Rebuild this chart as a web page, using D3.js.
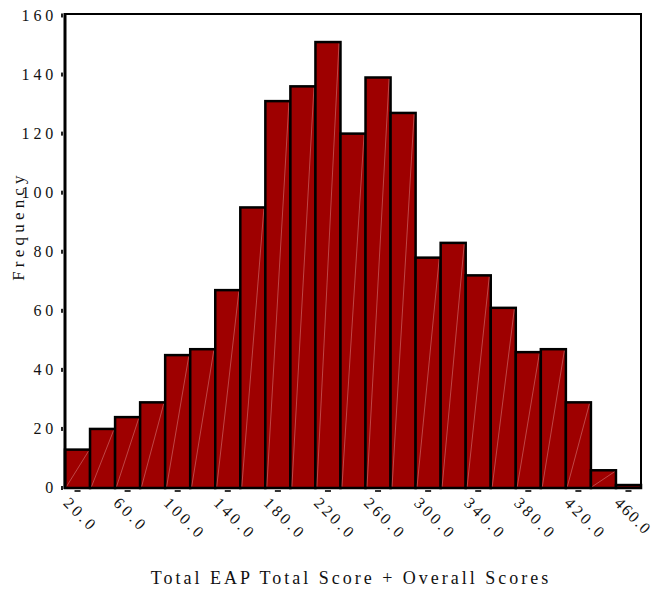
<!DOCTYPE html>
<html>
<head>
<meta charset="utf-8">
<script src="https://cdn.jsdelivr.net/npm/d3@7"></script>
<style>
  html, body { margin: 0; padding: 0; background: #fff; }
  svg text { font-family: "Liberation Serif", "Times New Roman", Times, serif; fill: #111; }
</style>
</head>
<body>
<div id="chart"></div>
<script>
// --- data (bin midpoints, 20 wide) ---
const binMids = [20, 40, 60, 80, 100, 120, 140, 160, 180, 200, 220, 240,
                 260, 280, 300, 320, 340, 360, 380, 400, 420, 440, 460];
const counts  = [13, 20, 24, 29, 45, 47, 67, 95, 131, 136, 151, 120,
                 139, 127, 78, 83, 72, 61, 46, 47, 29, 6, 1];
const xTicks  = [20, 60, 100, 140, 180, 220, 260, 300, 340, 380, 420, 460];
const xTickLabels = ["20.0", "60.0", "100.0", "140.0", "180.0", "220.0",
                     "260.0", "300.0", "340.0", "380.0", "420.0", "460.0"];
const yTicks  = [0, 20, 40, 60, 80, 100, 120, 140, 160];
const binWidth = 20;

// --- sizing ---
const W = 655, H = 591;
const plot = { left: 65, right: 641, top: 14, bottom: 488 };

const svg = d3.select("#chart").append("svg")
  .attr("width", W).attr("height", H)
  .attr("font-family", "Liberation Serif, Times New Roman, serif");

const x = d3.scaleLinear()
  .domain([binMids[0] - binWidth / 2, binMids[binMids.length - 1] + binWidth / 2])
  .range([plot.left, plot.right]);

const y = d3.scaleLinear()
  .domain([0, 160.5])
  .range([plot.bottom, plot.top]);

// frame
svg.append("rect")
  .attr("x", plot.left).attr("y", plot.top)
  .attr("width", plot.right - plot.left)
  .attr("height", plot.bottom - plot.top)
  .attr("fill", "none")
  .attr("stroke", "#000")
  .attr("stroke-width", 2);

// bars
const bars = svg.append("g").selectAll("g")
  .data(binMids.map((m, i) => ({ mid: m, n: counts[i] })))
  .join("g");

bars.append("rect")
  .attr("x", d => x(d.mid - binWidth / 2))
  .attr("y", d => y(d.n))
  .attr("width", d => x(d.mid + binWidth / 2) - x(d.mid - binWidth / 2))
  .attr("height", d => y(0) - y(d.n))
  .attr("fill", "#9e0000")
  .attr("stroke", "#000")
  .attr("stroke-width", 2.5);

// faint diagonal shading seam inside each bar
bars.filter(d => d.n > 2).append("line")
  .attr("x1", d => x(d.mid - binWidth / 2) + 1.5)
  .attr("y1", y(0) - 1.5)
  .attr("x2", d => x(d.mid + binWidth / 2) - 1.5)
  .attr("y2", d => y(d.n) + 1.5)
  .attr("stroke", "#d88080")
  .attr("stroke-width", 0.7)
  .attr("opacity", 0.8);

// left axis line (heavier)
svg.append("line")
  .attr("x1", plot.left).attr("x2", plot.left)
  .attr("y1", plot.top - 1).attr("y2", plot.bottom + 1)
  .attr("stroke", "#000").attr("stroke-width", 3);

// y ticks + labels
const yg = svg.append("g");
yg.selectAll("rect")
  .data(yTicks).join("rect")
  .attr("x", plot.left - 4).attr("y", d => y(d) - 2)
  .attr("width", 2).attr("height", 4)
  .attr("fill", "#222");
yg.selectAll("text")
  .data(yTicks).join("text")
  .attr("x", plot.left - 8)
  .attr("y", d => y(d))
  .attr("dy", "0.33em")
  .attr("text-anchor", "end")
  .style("font-size", "16px")
  .style("letter-spacing", "3.8px")
  .text(d => d);

// x ticks + labels
const xg = svg.append("g");
xg.selectAll("rect")
  .data(xTicks).join("rect")
  .attr("x", d => x(d) - 3).attr("y", plot.bottom + 2)
  .attr("width", 6).attr("height", 2)
  .attr("fill", "#333");
xg.selectAll("text")
  .data(xTicks).join("text")
  .attr("transform", d => `translate(${x(d) - 15},${plot.bottom + 16}) rotate(45)`)
  .attr("text-anchor", "start")
  .style("font-size", "16px")
  // last label squeezed a little so it stays inside the page
  .style("letter-spacing", (d, i) => i === xTicks.length - 1 ? "1.8px" : "3.2px")
  .text((d, i) => xTickLabels[i]);

// axis titles
svg.append("text")
  .attr("x", 351).attr("y", 584)
  .attr("text-anchor", "middle")
  .style("font-size", "18px")
  .style("letter-spacing", "3px")
  .text("Total EAP Total Score + Overall Scores");

svg.append("text")
  .attr("transform", `translate(24,226) rotate(-90)`)
  .attr("text-anchor", "middle")
  .style("font-size", "17px")
  .style("letter-spacing", "4.2px")
  .text("Frequency");
</script>
</body>
</html>
